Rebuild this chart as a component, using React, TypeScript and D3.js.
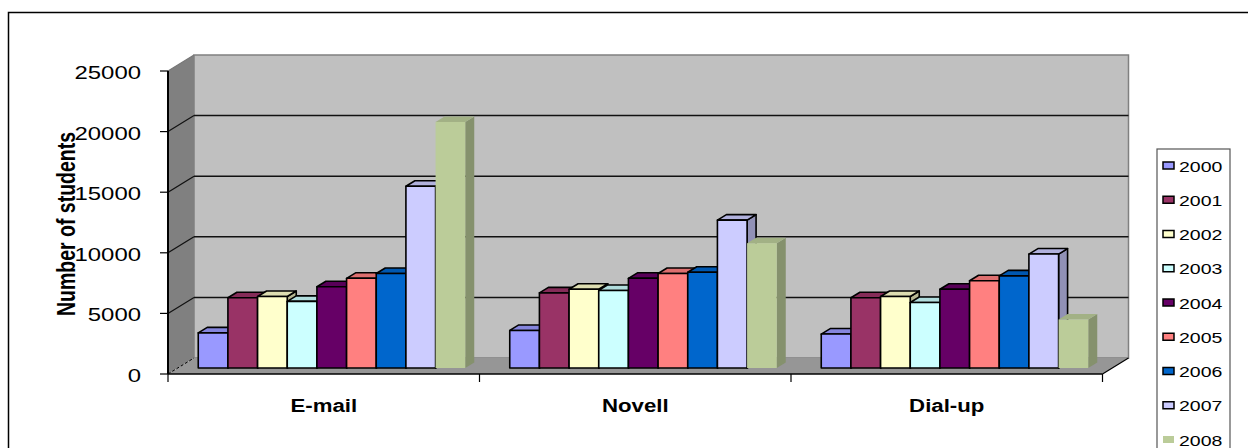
import React, { useEffect, useRef } from 'react';
import * as d3 from 'd3';

const categories = ['E-mail', 'Novell', 'Dial-up'];
const years = ['2000', '2001', '2002', '2003', '2004', '2005', '2006', '2007', '2008'];
const emailValues = [2900, 5800, 5900, 5500, 6700, 7400, 7800, 15000, 20300];
const novellValues = [3100, 6200, 6500, 6400, 7400, 7800, 7900, 12200, 10300];
const dialupValues = [2800, 5800, 5900, 5400, 6500, 7200, 7600, 9400, 4000];
const yTicks = [0, 5000, 10000, 15000, 20000, 25000];
const colors = ['#9999FF', '#993366', '#FFFFCC', '#CCFFFF', '#660066', '#FF8080', '#0066CC', '#CCCCFF', '#BBCC99'];

const App: React.FC = () => {
  const ref = useRef<SVGSVGElement | null>(null);

  useEffect(() => {
    if (!ref.current) return;
    const svg = d3.select(ref.current);
    svg.selectAll('*').remove();

    const font = 'Liberation Sans, Arial, sans-serif';
    const values = [emailValues, novellValues, dialupValues];

    const x0 = 168;
    const x1 = 1102.5;
    const y = d3.scaleLinear().domain([0, 25000]).range([374, 71]);
    const DX = 26; // wall depth
    const DY = -16;
    const BX = 8; // bar front offset into the depth
    const BY = -6;
    const bdx = 9; // bar depth
    const bdy = -5.5;

    const xCat = d3.scaleBand().domain(categories).range([x0, x1]);
    const xYear = d3
      .scaleBand()
      .domain(years)
      .range([22.25, xCat.bandwidth() - 22.25]);

    // outer frame
    svg
      .append('rect')
      .attr('x', 8.5)
      .attr('y', 12.5)
      .attr('width', 1260)
      .attr('height', 460)
      .attr('fill', 'white')
      .attr('stroke', 'black')
      .attr('stroke-width', 1.5);

    const yTop = y(25000);
    const yZero = y(0);

    // back wall
    svg
      .append('rect')
      .attr('x', x0 + DX)
      .attr('y', yTop + DY)
      .attr('width', x1 - x0)
      .attr('height', yZero - yTop)
      .attr('fill', '#C0C0C0')
      .attr('stroke', '#808080')
      .attr('stroke-width', 1.5);

    // side wall
    svg
      .append('polygon')
      .attr('points', [[x0, yZero], [x0, yTop], [x0 + DX, yTop + DY], [x0 + DX, yZero + DY]].map((p) => p.join(',')).join(' '))
      .attr('fill', '#808080');

    // floor
    svg
      .append('polygon')
      .attr('points', [[x0, yZero], [x1, yZero], [x1 + DX, yZero + DY], [x0 + DX, yZero + DY]].map((p) => p.join(',')).join(' '))
      .attr('fill', '#969696');

    // grid lines
    yTicks.forEach((t) => {
      if (t === 0) {
        svg
          .append('line')
          .attr('x1', x0)
          .attr('y1', yZero)
          .attr('x2', x0 + DX)
          .attr('y2', yZero + DY)
          .attr('stroke', 'black')
          .attr('stroke-dasharray', '3,2');
        return;
      }
      if (t < 25000) {
        svg
          .append('line')
          .attr('x1', x0 + DX)
          .attr('x2', x1 + DX)
          .attr('y1', y(t) + DY)
          .attr('y2', y(t) + DY)
          .attr('stroke', '#111')
          .attr('stroke-width', 1.5);
      }
      svg
        .append('line')
        .attr('x1', x0)
        .attr('y1', y(t))
        .attr('x2', x0 + DX)
        .attr('y2', y(t) + DY)
        .attr('stroke', t === 25000 ? '#777' : '#111')
        .attr('stroke-width', 1.2);
    });

    // axes
    svg
      .append('line')
      .attr('x1', x0)
      .attr('x2', x0)
      .attr('y1', yTop)
      .attr('y2', yZero)
      .attr('stroke', 'black')
      .attr('stroke-width', 2);
    svg
      .append('line')
      .attr('x1', x0)
      .attr('x2', x1)
      .attr('y1', yZero)
      .attr('y2', yZero)
      .attr('stroke', 'black')
      .attr('stroke-width', 1.5);
    svg
      .append('line')
      .attr('x1', x1)
      .attr('y1', yZero)
      .attr('x2', x1 + DX)
      .attr('y2', yZero + DY)
      .attr('stroke', 'black')
      .attr('stroke-width', 1.2);

    yTicks.forEach((t) => {
      svg
        .append('line')
        .attr('x1', x0 - 8)
        .attr('x2', x0)
        .attr('y1', y(t))
        .attr('y2', y(t))
        .attr('stroke', 'black')
        .attr('stroke-width', 1.2);
      svg
        .append('text')
        .attr('transform', `translate(141,${y(t) + 8}) scale(1.33,1)`)
        .attr('text-anchor', 'end')
        .attr('font-family', font)
        .attr('font-size', 18)
        .text(String(t));
    });

    [...categories.map((c) => xCat(c) as number), x1].forEach((tx) => {
      svg
        .append('line')
        .attr('x1', tx)
        .attr('x2', tx)
        .attr('y1', yZero)
        .attr('y2', yZero + 8)
        .attr('stroke', 'black')
        .attr('stroke-width', 1.2);
    });

    categories.forEach((c) => {
      svg
        .append('text')
        .attr('transform', `translate(${(xCat(c) as number) + xCat.bandwidth() / 2},412) scale(1.17,1)`)
        .attr('text-anchor', 'middle')
        .attr('font-family', font)
        .attr('font-size', 19)
        .attr('font-weight', 'bold')
        .text(c);
    });

    svg
      .append('text')
      .attr('transform', 'translate(75,224) scale(1.3,1) rotate(-90)')
      .attr('text-anchor', 'middle')
      .attr('font-family', font)
      .attr('font-size', 19.5)
      .attr('font-weight', 'bold')
      .text('Number of students');

    // bars
    const pts = (p: number[][]) => p.map((q) => q.join(',')).join(' ');
    categories.forEach((c, ci) => {
      years.forEach((yr, i) => {
        const v = values[ci][i];
        const w = xYear.bandwidth();
        const xl = (xCat(c) as number) + (xYear(yr) as number) + BX;
        const yb = y(0) + BY;
        const yt = y(v) + BY;
        const fill = colors[i];
        const last = i === years.length - 1;
        const stroke = last ? 'none' : 'black';
        const g = svg.append('g').attr('stroke', stroke).attr('stroke-width', 1.6).attr('stroke-linejoin', 'round');
        g.append('polygon')
          .attr('points', pts([[xl + w, yt], [xl + w + bdx, yt + bdy], [xl + w + bdx, yb + bdy], [xl + w, yb]]))
          .attr('fill', d3.color(fill)!.darker(0.95).formatHex());
        g.append('polygon')
          .attr('points', pts([[xl, yt], [xl + w, yt], [xl + w + bdx, yt + bdy], [xl + bdx, yt + bdy]]))
          .attr('fill', d3.color(fill)!.darker(0.4).formatHex());
        g.append('rect')
          .attr('x', xl)
          .attr('y', yt)
          .attr('width', w)
          .attr('height', yb - yt)
          .attr('fill', fill);
      });
    });

    // legend
    svg
      .append('rect')
      .attr('x', 1157)
      .attr('y', 149)
      .attr('width', 73)
      .attr('height', 320)
      .attr('fill', 'white')
      .attr('stroke', '#555')
      .attr('stroke-width', 1.2);
    years.forEach((yr, i) => {
      const cy = 166 + i * 34.25;
      const last = i === years.length - 1;
      svg
        .append('rect')
        .attr('x', 1163)
        .attr('y', cy - 4)
        .attr('width', 11)
        .attr('height', 7)
        .attr('fill', colors[i])
        .attr('stroke', last ? 'none' : 'black')
        .attr('stroke-width', 1.5);
      svg
        .append('text')
        .attr('transform', `translate(1179,${cy + 5.5}) scale(1.3,1)`)
        .attr('font-family', font)
        .attr('font-size', 15)
        .text(yr);
    });
  }, []);

  return (
    <svg
      ref={ref}
      width={1248}
      height={448}
      style={{ position: 'absolute', left: 0, top: 0, display: 'block', background: 'white' }}
    ></svg>
  );
};

export default App;
